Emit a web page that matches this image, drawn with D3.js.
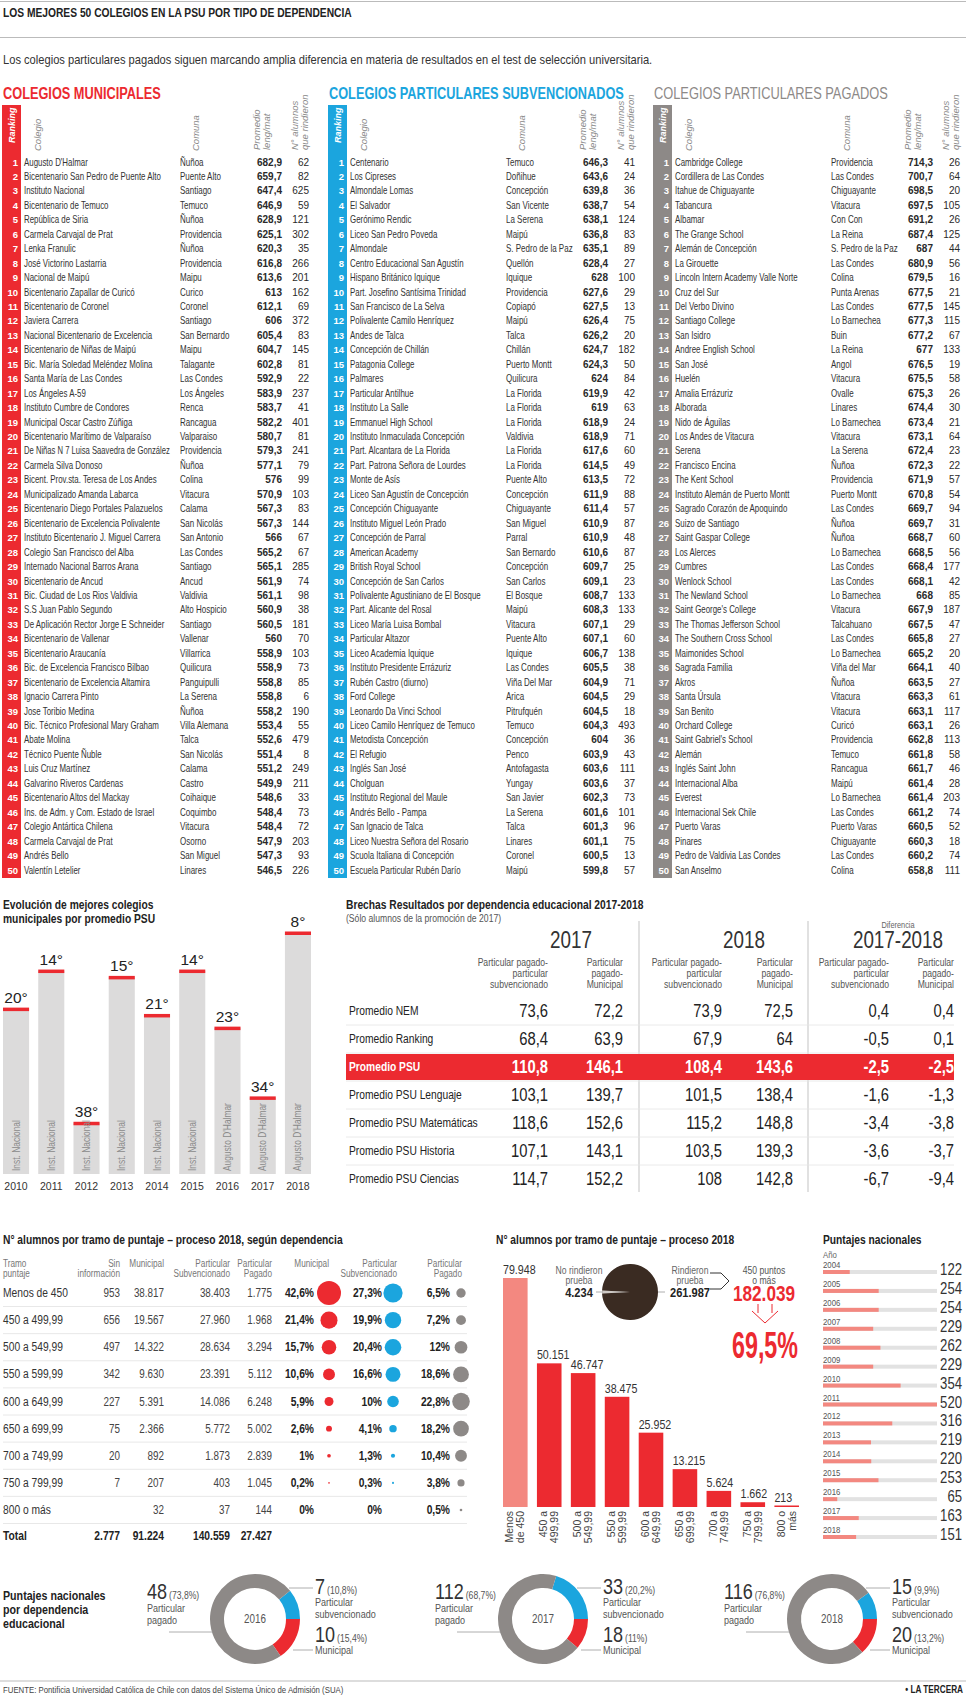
<!DOCTYPE html>
<html>
<head>
<meta charset="utf-8">
<script src="https://cdn.jsdelivr.net/npm/d3@7"></script>
<style>
  body { margin: 0; background: #fff; }
  svg { display: block; }
  text { font-family: 'Liberation Sans', Arial, sans-serif; }
</style>
</head>
<body>
<div id="chart"></div>
<script>
// ---- data ----
var municipales = [
  ["Augusto D'Halmar", "Ñuñoa", 682.9, 62],
  ["Bicentenario San Pedro de Puente Alto", "Puente Alto", 659.7, 82],
  ["Instituto Nacional", "Santiago", 647.4, 625],
  ["Bicentenario de Temuco", "Temuco", 646.9, 59],
  ["República de Siria", "Ñuñoa", 628.9, 121],
  ["Carmela Carvajal de Prat", "Providencia", 625.1, 302],
  ["Lenka Franulic", "Ñuñoa", 620.3, 35],
  ["José Victorino Lastarria", "Providencia", 616.8, 266],
  ["Nacional de Maipú", "Maipu", 613.6, 201],
  ["Bicentenario Zapallar de Curicó", "Curico", 613, 162],
  ["Bicentenario de Coronel", "Coronel", 612.1, 69],
  ["Javiera Carrera", "Santiago", 606, 372],
  ["Nacional Bicentenario de Excelencia", "San Bernardo", 605.4, 83],
  ["Bicentenario de Niñas de Maipú", "Maipu", 604.7, 145],
  ["Bic. María Soledad Meléndez Molina", "Talagante", 602.8, 81],
  ["Santa María de Las Condes", "Las Condes", 592.9, 22],
  ["Los Ángeles A-59", "Los Ángeles", 583.9, 237],
  ["Instituto Cumbre de Condores", "Renca", 583.7, 41],
  ["Municipal Oscar Castro Zúñiga", "Rancagua", 582.2, 401],
  ["Bicentenario Marítimo de Valparaíso", "Valparaiso", 580.7, 81],
  ["De Niñas N 7 Luisa Saavedra de González", "Providencia", 579.3, 241],
  ["Carmela Silva Donoso", "Ñuñoa", 577.1, 79],
  ["Bicent. Prov.sta. Teresa de Los Andes", "Colina", 576, 99],
  ["Municipalizado Amanda Labarca", "Vitacura", 570.9, 103],
  ["Bicentenario Diego Portales Palazuelos", "Calama", 567.3, 83],
  ["Bicentenario de Excelencia Polivalente", "San Nicolás", 567.3, 144],
  ["Instituto Bicentenario J. Miguel Carrera", "San Antonio", 566, 67],
  ["Colegio San Francisco del Alba", "Las Condes", 565.2, 67],
  ["Internado Nacional Barros Arana", "Santiago", 565.1, 285],
  ["Bicentenario de Ancud", "Ancud", 561.9, 74],
  ["Bic. Ciudad de Los Rios Valdivia", "Valdivia", 561.1, 98],
  ["S.S Juan Pablo Segundo", "Alto Hospicio", 560.9, 38],
  ["De Aplicación Rector Jorge E Schneider", "Santiago", 560.5, 181],
  ["Bicentenario de Vallenar", "Vallenar", 560, 70],
  ["Bicentenario Araucanía", "Villarrica", 558.9, 103],
  ["Bic. de Excelencia Francisco Bilbao", "Quilicura", 558.9, 73],
  ["Bicentenario de Excelencia Altamira", "Panguipulli", 558.8, 85],
  ["Ignacio Carrera Pinto", "La Serena", 558.8, 6],
  ["Jose Toribio Medina", "Ñuñoa", 558.2, 190],
  ["Bic. Técnico Profesional Mary Graham", "Villa Alemana", 553.4, 55],
  ["Abate Molina", "Talca", 552.6, 479],
  ["Técnico Puente Ñuble", "San Nicolás", 551.4, 8],
  ["Luis Cruz Martínez", "Calama", 551.2, 249],
  ["Galvarino Riveros Cardenas", "Castro", 549.9, 211],
  ["Bicentenario Altos del Mackay", "Coihaique", 548.6, 33],
  ["Ins. de Adm. y Com. Estado de Israel", "Coquimbo", 548.4, 73],
  ["Colegio Antártica Chilena", "Vitacura", 548.4, 72],
  ["Carmela Carvajal de Prat", "Osorno", 547.9, 203],
  ["Andrés Bello", "San Miguel", 547.3, 93],
  ["Valentín Letelier", "Linares", 546.5, 226]
];

var subvencionados = [
  ["Centenario", "Temuco", 646.3, 41],
  ["Los Cipreses", "Doñihue", 643.6, 24],
  ["Almondale Lomas", "Concepción", 639.8, 36],
  ["El Salvador", "San Vicente", 638.7, 54],
  ["Gerónimo Rendic", "La Serena", 638.1, 124],
  ["Liceo San Pedro Poveda", "Maipú", 636.8, 83],
  ["Almondale", "S. Pedro de la Paz", 635.1, 89],
  ["Centro Educacional San Agustín", "Quellón", 628.4, 27],
  ["Hispano Británico Iquique", "Iquique", 628, 100],
  ["Part. Josefino Santísima Trinidad", "Providencia", 627.6, 29],
  ["San Francisco de La Selva", "Copiapó", 627.5, 13],
  ["Polivalente Camilo Henríquez", "Maipú", 626.4, 75],
  ["Andes de Talca", "Talca", 626.2, 20],
  ["Concepción de Chillán", "Chillán", 624.7, 182],
  ["Patagonia College", "Puerto Montt", 624.3, 50],
  ["Palmares", "Quilicura", 624, 84],
  ["Particular Antilhue", "La Florida", 619.9, 42],
  ["Instituto La Salle", "La Florida", 619, 63],
  ["Emmanuel High School", "La Florida", 618.9, 24],
  ["Instituto Inmaculada Concepción", "Valdivia", 618.9, 71],
  ["Part. Alcantara de La Florida", "La Florida", 617.6, 60],
  ["Part. Patrona Señora de Lourdes", "La Florida", 614.5, 49],
  ["Monte de Asís", "Puente Alto", 613.5, 72],
  ["Liceo San Agustín de Concepción", "Concepción", 611.9, 88],
  ["Concepción Chiguayante", "Chiguayante", 611.4, 57],
  ["Instituto Miguel León Prado", "San Miguel", 610.9, 87],
  ["Concepción  de Parral", "Parral", 610.9, 48],
  ["American Academy", "San Bernardo", 610.6, 87],
  ["British Royal School", "Concepción", 609.7, 25],
  ["Concepción de San Carlos", "San Carlos", 609.1, 23],
  ["Polivalente Agustiniano de El Bosque", "El Bosque", 608.7, 133],
  ["Part. Alicante del Rosal", "Maipú", 608.3, 133],
  ["Liceo María Luisa Bombal", "Vitacura", 607.1, 29],
  ["Particular Altazor", "Puente Alto", 607.1, 60],
  ["Liceo Academia Iquique", "Iquique", 606.7, 138],
  ["Instituto Presidente Errázuriz", "Las Condes", 605.5, 38],
  ["Rubén Castro (diurno)", "Viña Del Mar", 604.9, 71],
  ["Ford College", "Arica", 604.5, 29],
  ["Leonardo Da Vinci School", "Pitrufquén", 604.5, 18],
  ["Liceo Camilo Henríquez de Temuco", "Temuco", 604.3, 493],
  ["Metodista Concepción", "Concepción", 604, 36],
  ["El Refugio", "Penco", 603.9, 43],
  ["Inglés San José", "Antofagasta", 603.6, 111],
  ["Cholguan", "Yungay", 603.6, 37],
  ["Instituto Regional del Maule", "San Javier", 602.3, 73],
  ["Andrés Bello - Pampa", "La Serena", 601.6, 101],
  ["San Ignacio de Talca", "Talca", 601.3, 96],
  ["Liceo Nuestra Señora del Rosario", "Linares", 601.1, 75],
  ["Scuola Italiana di Concepción", "Coronel", 600.5, 13],
  ["Escuela Particular Rubén Darío", "Maipú", 599.8, 57]
];

var pagados = [
  ["Cambridge College", "Providencia", 714.3, 26],
  ["Cordillera de Las Condes", "Las Condes", 700.7, 64],
  ["Itahue de Chiguayante", "Chiguayante", 698.5, 20],
  ["Tabancura", "Vitacura", 697.5, 105],
  ["Albamar", "Con Con", 691.2, 26],
  ["The Grange School", "La Reina", 687.4, 125],
  ["Alemán de Concepción", "S. Pedro de la Paz", 687, 44],
  ["La Girouette", "Las Condes", 680.9, 56],
  ["Lincoln Intern Academy Valle Norte", "Colina", 679.5, 16],
  ["Cruz del Sur", "Punta Arenas", 677.5, 21],
  ["Del Verbo Divino", "Las Condes", 677.5, 145],
  ["Santiago College", "Lo Barnechea", 677.3, 115],
  ["San Isidro", "Buin", 677.2, 67],
  ["Andree English School", "La Reina", 677, 133],
  ["San José", "Angol", 676.5, 19],
  ["Huelén", "Vitacura", 675.5, 58],
  ["Amalia Errázuriz", "Ovalle", 675.3, 26],
  ["Alborada", "Linares", 674.4, 30],
  ["Nido de Águilas", "Lo Barnechea", 673.4, 21],
  ["Los Andes de Vitacura", "Vitacura", 673.1, 64],
  ["Serena", "La Serena", 672.4, 23],
  ["Francisco Encina", "Ñuñoa", 672.3, 22],
  ["The Kent School", "Providencia", 671.9, 57],
  ["Instituto Alemán de Puerto Montt", "Puerto Montt", 670.8, 54],
  ["Sagrado Corazón de Apoquindo", "Las Condes", 669.7, 94],
  ["Suizo de Santiago", "Ñuñoa", 669.7, 31],
  ["Saint Gaspar College", "Ñuñoa", 668.7, 60],
  ["Los Alerces", "Lo Barnechea", 668.5, 56],
  ["Cumbres", "Las Condes", 668.4, 177],
  ["Wenlock School", "Las Condes", 668.1, 42],
  ["The Newland School", "Lo Barnechea", 668, 85],
  ["Saint George's College", "Vitacura", 667.9, 187],
  ["The Thomas Jefferson School", "Talcahuano", 667.5, 47],
  ["The Southern Cross School", "Las Condes", 665.8, 27],
  ["Maimonides School", "Lo Barnechea", 665.2, 20],
  ["Sagrada Familia", "Viña del Mar", 664.1, 40],
  ["Akros", "Ñuñoa", 663.5, 27],
  ["Santa Úrsula", "Vitacura", 663.3, 61],
  ["San Benito", "Vitacura", 663.1, 117],
  ["Orchard College", "Curicó", 663.1, 26],
  ["Saint Gabriel's School", "Providencia", 662.8, 113],
  ["Alemán", "Temuco", 661.8, 58],
  ["Inglés Saint John", "Rancagua", 661.7, 46],
  ["Internacional  Alba", "Maipú", 661.4, 28],
  ["Everest", "Lo Barnechea", 661.4, 203],
  ["Internacional Sek Chile", "Las Condes", 661.2, 74],
  ["Puerto Varas", "Puerto Varas", 660.5, 52],
  ["Pinares", "Chiguayante", 660.3, 18],
  ["Pedro de Valdivia Las Condes", "Las Condes", 660.2, 74],
  ["San  Anselmo", "Colina", 658.8, 111]
];

var evoYears = [2010, 2011, 2012, 2013, 2014, 2015, 2016, 2017, 2018];
var evoRank = [20, 14, 38, 15, 21, 14, 23, 34, 8];
var evoSchool = ["Inst. Nacional", "Inst. Nacional", "Inst. Nacional", "Inst. Nacional", "Inst. Nacional",
  "Inst. Nacional", "Augusto D'Halmar", "Augusto D'Halmar", "Augusto D'Halmar"];

var brechaLabels = ["Promedio NEM", "Promedio Ranking", "Promedio PSU", "Promedio PSU Lenguaje",
  "Promedio PSU Matemáticas", "Promedio PSU Historia", "Promedio PSU Ciencias"];
var brecha2017Subv = [73.6, 68.4, 110.8, 103.1, 118.6, 107.1, 114.7];
var brecha2017Mun = [72.2, 63.9, 146.1, 139.7, 152.6, 143.1, 152.2];
var brecha2018Subv = [73.9, 67.9, 108.4, 101.5, 115.2, 103.5, 108];
var brecha2018Mun = [72.5, 64, 143.6, 138.4, 148.8, 139.3, 142.8];
var brechaDifSubv = [0.4, -0.5, -2.5, -1.6, -3.4, -3.6, -6.7];
var brechaDifMun = [0.4, 0.1, -2.5, -1.3, -3.8, -3.7, -9.4];

var tramos = ["Menos de 450", "450 a 499,99", "500 a 549,99", "550 a 599,99", "600 a 649,99",
  "650 a 699,99", "700 a 749,99", "750 a 799,99", "800 o más"];
var sinInfo = [953, 656, 497, 342, 227, 75, 20, 7, null];
var nMunicipal = [38817, 19567, 14322, 9630, 5391, 2366, 892, 207, 32];
var nSubv = [38403, 27960, 28634, 23391, 14086, 5772, 1873, 403, 37];
var nPagado = [1775, 1968, 3294, 5112, 6248, 5002, 2839, 1045, 144];
var pctMunicipal = [42.6, 21.4, 15.7, 10.6, 5.9, 2.6, 1, 0.2, 0];
var pctSubv = [27.3, 19.9, 20.4, 16.6, 10, 4.1, 1.3, 0.3, 0];
var pctPagado = [6.5, 7.2, 12, 18.6, 22.8, 18.2, 10.4, 3.8, 0.5];
var tramoTotals = [2777, 91224, 140559, 27427];

var alumnosTramo = [79948, 50151, 46747, 38475, 25952, 13215, 5624, 1662, 213];
var tramoAxis = [["Menos", "de 450"], ["450 a", "499,99"], ["500 a", "549,99"], ["550 a", "599,99"],
  ["600 a", "649,99"], ["650 a", "699,99"], ["700 a", "749,99"], ["750 a", "799,99"], ["800 o", "más"]];
var rindieron = [4234, 261987];
var sobre450 = 182039;
var sobre450Pct = 69.5;

var pnYears = [2004, 2005, 2006, 2007, 2008, 2009, 2010, 2011, 2012, 2013, 2014, 2015, 2016, 2017, 2018];
var pnValues = [122, 254, 254, 229, 262, 229, 354, 520, 316, 219, 220, 253, 65, 163, 151];

var donutYears = [2016, 2017, 2018];
var donutPagado = [48, 112, 116];
var donutSubv = [7, 33, 15];
var donutMun = [10, 18, 20];
var donutPagadoPct = ["73,8%", "68,7%", "76,8%"];
var donutSubvPct = ["10,8%", "20,2%", "9,9%"];
var donutMunPct = ["15,4%", "11%", "13,2%"];

// ---- setup ----
var RED = "#ec2a30", BLUE = "#1ba5de", GRAY = "#8d8987", SALMON = "#f38880";
var RB = "Roboto,'DejaVu Sans',sans-serif";
var NARROW = 0.82; // liberation sans squeezed -> narrow face
var W = 966, H = 1696;

var loc = d3.formatLocale({decimal: ",", thousands: ".", grouping: [3], currency: ["$", ""], minus: "-"});
var fmt = loc.format(",");

var svg = d3.select("#chart").append("svg").attr("width", W).attr("height", H);
svg.append("rect").attr("width", W).attr("height", H).attr("fill", "#fff");

// squeeze text horizontally (k = factor), optionally capped at maxW px
function squeeze(sel, k, maxW) {
  sel.each(function () {
    var l = this.getComputedTextLength() * (k || NARROW);
    if (maxW && l > maxW) l = maxW;
    if (l > 0) d3.select(this).attr("textLength", l).attr("lengthAdjust", "spacingAndGlyphs");
  });
}
// same idea, but through a scale transform (for table cells)
function squeezeAt(sel, x0, k, maxW) {
  sel.each(function () {
    var l = this.getComputedTextLength();
    var s = k;
    if (maxW && l * s > maxW) s = maxW / l;
    d3.select(this).attr("x", 0).attr("transform", "translate(" + x0 + ",0) scale(" + s + ",1)");
  });
}
// stretch / squeeze a text to an exact width
function fitAt(t, x0, target) {
  var l = t.node().getComputedTextLength();
  t.attr("x", 0).attr("transform", "translate(" + x0 + ",0) scale(" + (target / l) + ",1)");
  return t;
}

function addText(parent, x, y, str, size, o) {
  o = o || {};
  var t = parent.append("text").attr("x", x).attr("y", y).text(str)
    .attr("font-size", size).attr("fill", o.fill || "#222")
    .attr("text-anchor", o.anchor || "start");
  if (o.weight) t.attr("font-weight", o.weight);
  if (o.family) t.attr("font-family", o.family);
  if (o.style) t.attr("font-style", o.style);
  if (o.len) t.attr("textLength", o.len).attr("lengthAdjust", "spacingAndGlyphs");
  else if (!o.family && !o.wide) squeeze(t);
  return t;
}
function addRot(parent, x, y, str, size, o) {
  var t = addText(parent, 0, 0, str, size, o);
  t.attr("transform", "translate(" + x + "," + y + ") rotate(-90)");
  return t;
}
function hline(parent, x1, x2, y, color, w) {
  parent.append("line").attr("x1", x1).attr("x2", x2).attr("y1", y).attr("y2", y)
    .attr("stroke", color || "#ccc").attr("stroke-width", w || 1);
}

// ---- header ----
hline(svg, 0, W, 1.5, "#bbb");
addText(svg, 3, 17, "LOS MEJORES 50 COLEGIOS EN LA PSU POR TIPO DE DEPENDENCIA", 12.5, {weight: "bold", fill: "#222"});
hline(svg, 0, W, 37.5, "#bbb");
fitAt(addText(svg, 0, 64, "Los colegios particulares pagados siguen marcando amplia diferencia en materia de resultados en el test de selección universitaria.", 12.5, {fill: "#333", wide: true}), 3, 650);

fitAt(addText(svg, 0, 99, "COLEGIOS MUNICIPALES", 17, {fill: RED, weight: "bold", wide: true}), 3, 158);
fitAt(addText(svg, 0, 99, "COLEGIOS PARTICULARES SUBVENCIONADOS", 17, {fill: BLUE, weight: "bold", wide: true}), 329, 295);
fitAt(addText(svg, 0, 99, "COLEGIOS PARTICULARES PAGADOS", 17, {fill: GRAY, wide: true}), 654, 234);

// ---- ranking tables ----
function drawRanking(rows, ox, color) {
  var g = svg.append("g");
  var y = d3.scaleLinear().domain([1, 50]).range([162, 870]);
  g.append("rect").attr("x", ox + 2).attr("y", 105).attr("width", 19).attr("height", 773).attr("fill", color);
  addRot(g, ox + 15, 143, "Ranking", 9, {fill: "#fff", weight: "bold", style: "italic", family: RB});
  var hdr = {fill: "#8a8a8a", style: "italic", family: RB, weight: 300};
  addRot(g, ox + 41, 151, "Colegio", 9.5, hdr);
  addRot(g, ox + 199, 151, "Comuna", 9.5, hdr);
  addRot(g, ox + 260, 150, "Promedio", 9.5, hdr);
  addRot(g, ox + 270, 150, "leng/mat", 9.5, hdr);
  addRot(g, ox + 298, 150, "N° alumnos", 9.5, hdr);
  addRot(g, ox + 308, 150, "que rindieron", 9.5, hdr);

  var row = g.selectAll("g.row").data(rows).join("g").attr("class", "row")
    .attr("transform", function (d, i) { return "translate(0," + (y(i + 1) + 3.5) + ")"; });
  row.append("text").attr("x", ox + 18).attr("text-anchor", "end").attr("font-family", RB)
    .attr("font-weight", "bold").attr("font-size", 9.5).attr("fill", "#fff")
    .text(function (d, i) { return i + 1; });
  var names = row.append("text").attr("font-size", 10).attr("fill", "#333")
    .text(function (d) { return d[0]; });
  var comunas = row.append("text").attr("font-size", 10).attr("fill", "#333")
    .text(function (d) { return d[1]; });
  squeezeAt(names, ox + 24, 0.79, 146);
  squeezeAt(comunas, ox + 180, 0.8, 70);
  row.append("text").attr("x", ox + 282).attr("text-anchor", "end").attr("font-family", RB)
    .attr("font-weight", "bold").attr("font-size", 10).attr("fill", "#2a2a2a")
    .text(function (d) { return fmt(d[2]); });
  row.append("text").attr("x", ox + 309).attr("text-anchor", "end").attr("font-family", RB)
    .attr("font-weight", 500).attr("font-size", 10).attr("fill", "#2a2a2a")
    .text(function (d) { return d[3]; });
}
drawRanking(municipales, 0, RED);
drawRanking(subvencionados, 326, BLUE);
drawRanking(pagados, 651, GRAY);

// ---- evolución ----
(function () {
  var g = svg.append("g");
  addText(g, 3, 909, "Evolución de mejores colegios", 12.5, {weight: "bold"});
  addText(g, 3, 923, "municipales por promedio PSU", 12.5, {weight: "bold"});
  var x = d3.scaleBand().domain(evoYears).range([3, 311]).paddingInner(0.26);
  var base = 1174;
  var y = d3.scaleLinear().domain([46, 8]).range([base, 933]);
  var bars = g.selectAll("g.evo").data(evoYears).join("g").attr("class", "evo");
  bars.append("rect").attr("x", function (d) { return x(d); })
    .attr("y", function (d, i) { return y(evoRank[i]); })
    .attr("width", x.bandwidth())
    .attr("height", function (d, i) { return base - y(evoRank[i]); })
    .attr("fill", "#dcdbdb");
  bars.append("rect").attr("x", function (d) { return x(d); })
    .attr("y", function (d, i) { return y(evoRank[i]) - 1.5; })
    .attr("width", x.bandwidth()).attr("height", 3.5).attr("fill", RED);
  bars.append("text").attr("x", function (d) { return x(d) + x.bandwidth() / 2; })
    .attr("y", function (d, i) { return y(evoRank[i]) - 6; })
    .attr("text-anchor", "middle").attr("font-family", RB).attr("font-size", 15.5).attr("fill", "#222")
    .text(function (d, i) { return evoRank[i] + "°"; });
  var school = bars.append("text")
    .attr("transform", function (d) { return "translate(" + (x(d) + x.bandwidth() / 2 + 3.5) + "," + (base - 3) + ") rotate(-90)"; })
    .attr("font-size", 10.5).attr("fill", "#8a8a8a")
    .text(function (d, i) { return evoSchool[i]; });
  squeeze(school, 0.8);
  bars.append("text").attr("x", function (d) { return x(d) + x.bandwidth() / 2; })
    .attr("y", 1190).attr("text-anchor", "middle").attr("font-family", RB).attr("font-size", 10.5).attr("fill", "#333")
    .text(function (d) { return d; });
})();

// ---- brechas ----
(function () {
  var g = svg.append("g");
  addText(g, 346, 909, "Brechas Resultados por dependencia educacional 2017-2018", 12.5, {weight: "bold"});
  addText(g, 346, 922, "(Sólo alumnos de la promoción de 2017)", 10.5, {fill: "#555"});
  var colRight = [548, 623, 722, 793, 889, 954];
  [639, 808].forEach(function (vx) {
    g.append("line").attr("x1", vx).attr("x2", vx).attr("y1", 921).attr("y2", 1192)
      .attr("stroke", "#aaa").attr("stroke-width", 0.7);
  });
  addText(g, 898, 928, "Diferencia", 9, {fill: "#666", anchor: "middle"});
  addText(g, 571, 948, "2017", 23, {fill: "#333", anchor: "middle"});
  addText(g, 744, 948, "2018", 23, {fill: "#333", anchor: "middle"});
  addText(g, 898, 948, "2017-2018", 23, {fill: "#333", anchor: "middle"});
  var subA = ["Particular pagado-", "particular", "subvencionado"];
  var subB = ["Particular", "pagado-", "Municipal"];
  colRight.forEach(function (cx, j) {
    (j % 2 === 0 ? subA : subB).forEach(function (s, k) {
      addText(g, cx, 966 + k * 11, s, 10.5, {fill: "#555", anchor: "end"});
    });
  });
  var cols = [brecha2017Subv, brecha2017Mun, brecha2018Subv, brecha2018Mun, brechaDifSubv, brechaDifMun];
  var ry = d3.scaleLinear().domain([0, 6]).range([1011, 1179]);
  brechaLabels.forEach(function (lab, i) {
    var cy = ry(i);
    var hi = lab === "Promedio PSU";
    if (hi) g.append("rect").attr("x", 346).attr("y", cy - 13).attr("width", 608).attr("height", 26).attr("fill", RED);
    if (i < brechaLabels.length - 1) hline(g, 346, 954, cy + 14, "#e4e4e4", 0.8);
    addText(g, 349, cy + 4, lab, 12.5, {fill: hi ? "#fff" : "#222", weight: hi ? "bold" : null});
    cols.forEach(function (col, j) {
      addText(g, colRight[j], cy + 6, fmt(col[i]), 18, {fill: hi ? "#fff" : "#222", anchor: "end", weight: hi ? "bold" : null});
    });
  });
})();

// ---- N alumnos por tramo, según dependencia ----
(function () {
  var g = svg.append("g");
  addText(g, 3, 1244, "N° alumnos por tramo de puntaje – proceso 2018, según dependencia", 12.5, {weight: "bold"});
  var hdr = {fill: "#777", anchor: "end"};
  addText(g, 3, 1267, "Tramo", 10, {fill: "#777"});
  addText(g, 3, 1277, "puntaje", 10, {fill: "#777"});
  addText(g, 120, 1267, "Sin", 10, hdr);
  addText(g, 120, 1277, "información", 10, hdr);
  addText(g, 164, 1267, "Municipal", 10, hdr);
  addText(g, 230, 1267, "Particular", 10, hdr);
  addText(g, 230, 1277, "Subvencionado", 10, hdr);
  addText(g, 272, 1267, "Particular", 10, hdr);
  addText(g, 272, 1277, "Pagado", 10, hdr);
  addText(g, 329, 1267, "Municipal", 10, hdr);
  addText(g, 397, 1267, "Particular", 10, hdr);
  addText(g, 397, 1277, "Subvencionado", 10, hdr);
  addText(g, 462, 1267, "Particular", 10, hdr);
  addText(g, 462, 1277, "Pagado", 10, hdr);

  var ry = d3.scaleLinear().domain([0, 8]).range([1293, 1510]);
  var r = d3.scaleSqrt().domain([0, 42.6]).range([0, 12]);
  tramos.forEach(function (t, i) {
    var cy = ry(i), by = cy + 4;
    hline(g, 3, 467, cy + 13.5, "#e2e2e2", 0.8);
    addText(g, 3, by, t, 12.5, {fill: "#333"});
    if (sinInfo[i] != null) addText(g, 120, by, fmt(sinInfo[i]), 12, {fill: "#444", anchor: "end"});
    addText(g, 164, by, fmt(nMunicipal[i]), 12, {fill: "#444", anchor: "end"});
    addText(g, 230, by, fmt(nSubv[i]), 12, {fill: "#444", anchor: "end"});
    addText(g, 272, by, fmt(nPagado[i]), 12, {fill: "#444", anchor: "end"});
    addText(g, 314, by, fmt(pctMunicipal[i]) + "%", 12.5, {weight: "bold", anchor: "end"});
    addText(g, 382, by, fmt(pctSubv[i]) + "%", 12.5, {weight: "bold", anchor: "end"});
    addText(g, 450, by, fmt(pctPagado[i]) + "%", 12.5, {weight: "bold", anchor: "end"});
    g.append("circle").attr("cx", 329).attr("cy", cy).attr("r", r(pctMunicipal[i])).attr("fill", RED);
    g.append("circle").attr("cx", 393).attr("cy", cy).attr("r", r(pctSubv[i])).attr("fill", BLUE);
    g.append("circle").attr("cx", 461).attr("cy", cy).attr("r", r(pctPagado[i])).attr("fill", GRAY);
  });
  var ty = 1540;
  addText(g, 3, ty, "Total", 12.5, {weight: "bold"});
  [120, 164, 230, 272].forEach(function (cx, j) {
    addText(g, cx, ty, fmt(tramoTotals[j]), 12.5, {weight: "bold", anchor: "end"});
  });
})();

// ---- N alumnos por tramo 2018 (barras) ----
(function () {
  var g = svg.append("g");
  addText(g, 496, 1244, "N° alumnos por tramo de puntaje – proceso 2018", 12.5, {weight: "bold"});
  var x = d3.scaleBand().domain(d3.range(alumnosTramo.length)).range([503, 799]).paddingInner(0.275);
  var base = 1507;
  var y = d3.scaleLinear().domain([0, 79948]).range([base, 1278]);
  var bars = g.selectAll("g.tb").data(alumnosTramo).join("g").attr("class", "tb");
  bars.append("rect").attr("x", function (d, i) { return x(i); })
    .attr("y", function (d) { return Math.min(y(d), base - 1.5); })
    .attr("width", x.bandwidth())
    .attr("height", function (d) { return Math.max(base - y(d), 1.5); })
    .attr("fill", function (d, i) { return i === 0 ? SALMON : RED; });
  var lab = bars.append("text").attr("x", function (d, i) { return x(i); })
    .attr("y", function (d) { return Math.min(y(d), base - 1.5) - 4; })
    .attr("font-size", 13).attr("fill", "#333")
    .text(function (d) { return fmt(d); });
  squeeze(lab);
  bars.each(function (d, i) {
    var gx = x(i) + x.bandwidth() / 2;
    tramoAxis[i].forEach(function (s, k) {
      addRot(g, gx - 2 + k * 11, 1511, s, 10.5, {fill: "#444", anchor: "end", family: "'DejaVu Sans',sans-serif"});
    });
  });

  // pie rindieron
  var pcx = 630, pcy = 1292;
  var total = d3.sum(rindieron);
  var small = 2 * Math.PI * rindieron[0] / total;
  var pie = d3.pie().sort(null).startAngle(-Math.PI / 2 - small / 2).endAngle(3 * Math.PI / 2 - small / 2);
  var arc = d3.arc().innerRadius(0).outerRadius(28);
  g.selectAll("path.pie").data(pie(rindieron)).join("path").attr("class", "pie")
    .attr("transform", "translate(" + pcx + "," + pcy + ")")
    .attr("d", arc).attr("fill", function (d, i) { return i === 0 ? "#cfcac6" : "#3a2b22"; });
  hline(g, 596, 603, pcy, "#999", 0.8);
  hline(g, 658, 665, pcy, "#999", 0.8);
  addText(g, 579, 1274, "No rindieron", 10.5, {fill: "#666", anchor: "middle"});
  addText(g, 579, 1284, "prueba", 10.5, {fill: "#666", anchor: "middle"});
  addText(g, 579, 1297, fmt(rindieron[0]), 13.5, {weight: "bold", anchor: "middle"});
  addText(g, 690, 1274, "Rindieron", 10.5, {fill: "#666", anchor: "middle"});
  addText(g, 690, 1284, "prueba", 10.5, {fill: "#666", anchor: "middle"});
  addText(g, 690, 1297, fmt(rindieron[1]), 13.5, {weight: "bold", anchor: "middle"});
  g.append("path").attr("d", "M710,1273 H721 L729,1281 L721,1289 H710")
    .attr("fill", "none").attr("stroke", "#333").attr("stroke-width", 1);
  addText(g, 764, 1274, "450 puntos", 10.5, {fill: "#555", anchor: "middle"});
  addText(g, 764, 1284, "o más", 10.5, {fill: "#555", anchor: "middle"});
  addText(g, 764, 1301, fmt(sobre450), 22, {fill: RED, weight: "bold", anchor: "middle", len: 62});
  g.append("path").attr("d", "M758,1304 V1313 M772,1304 V1313 M752,1311 L765,1323 L778,1311")
    .attr("fill", "none").attr("stroke", RED).attr("stroke-width", 1);
  addText(g, 765, 1358, fmt(sobre450Pct) + "%", 37, {fill: RED, weight: "bold", anchor: "middle", len: 66});
})();

// ---- puntajes nacionales ----
(function () {
  var g = svg.append("g");
  addText(g, 823, 1244, "Puntajes nacionales", 12.5, {weight: "bold"});
  addText(g, 823, 1258, "Año", 9.5, {fill: "#666"});
  var x = d3.scaleLinear().domain([0, 520]).range([823, 937]);
  var ry = d3.scaleLinear().domain([0, 14]).range([1270, 1535]);
  pnYears.forEach(function (yr, i) {
    var top = ry(i);
    addText(g, 823, top - 2, yr, 9.5, {fill: "#555"});
    g.append("rect").attr("x", 823).attr("y", top).attr("width", x(520) - 823).attr("height", 4).attr("fill", "#e2e2e2");
    g.append("rect").attr("x", 823).attr("y", top).attr("width", x(pnValues[i]) - 823).attr("height", 4).attr("fill", SALMON);
    addText(g, 962, top + 5, pnValues[i], 16, {fill: "#333", anchor: "end"});
  });
})();

// ---- donuts ----
(function () {
  var g = svg.append("g");
  addText(g, 3, 1600, "Puntajes nacionales", 13, {weight: "bold"});
  addText(g, 3, 1614, "por dependencia", 13, {weight: "bold"});
  addText(g, 3, 1628, "educacional", 13, {weight: "bold"});
  var centers = [255, 543, 832], cy = 1619;
  var arc = d3.arc().innerRadius(31).outerRadius(45);

  function bigNum(x, y, n, pct) {
    var t = addText(g, x, y, n, 22, {fill: "#333"});
    var w = +t.attr("textLength");
    addText(g, x + w + 2, y, "(" + pct + ")", 10.5, {fill: "#555"});
  }

  donutYears.forEach(function (yr, i) {
    var cx = centers[i];
    var vals = [donutSubv[i], donutMun[i], donutPagado[i]];
    var sub = 2 * Math.PI * vals[0] / d3.sum(vals);
    var pie = d3.pie().sort(null).startAngle(Math.PI / 2 - sub).endAngle(5 * Math.PI / 2 - sub);
    g.append("g").attr("transform", "translate(" + cx + "," + cy + ")")
      .selectAll("path").data(pie(vals)).join("path").attr("d", arc)
      .attr("fill", function (d, k) { return [BLUE, RED, GRAY][k]; });
    addText(g, cx, cy + 4, yr, 12, {fill: "#555", anchor: "middle"});

    var lx = cx - 108;
    bigNum(lx, 1599, donutPagado[i], donutPagadoPct[i]);
    addText(g, lx, 1612, "Particular", 11, {fill: "#555"});
    addText(g, lx, 1624, "pagado", 11, {fill: "#555"});
    hline(g, lx + 22, cx - 42, 1632, "#999", 0.8);

    var rx = cx + 60;
    bigNum(rx, 1594, donutSubv[i], donutSubvPct[i]);
    addText(g, rx, 1606, "Particular", 11, {fill: "#555"});
    addText(g, rx, 1618, "subvencionado", 11, {fill: "#555"});
    hline(g, cx + 34, rx - 2, 1588, "#999", 0.8);
    bigNum(rx, 1642, donutMun[i], donutMunPct[i]);
    addText(g, rx, 1654, "Municipal", 11, {fill: "#555"});
    hline(g, cx + 38, rx - 2, 1650, "#999", 0.8);
  });
})();

// ---- footer ----
hline(svg, 0, W, 1681, "#bbb");
addText(svg, 3, 1693, "FUENTE: Pontificia Universidad Católica de Chile con datos del Sistema Único de Admisión (SUA)", 9.5, {fill: "#444"});
addText(svg, 963, 1693, "• LA TERCERA", 10, {anchor: "end", weight: "bold"});
</script>
</body>
</html>
